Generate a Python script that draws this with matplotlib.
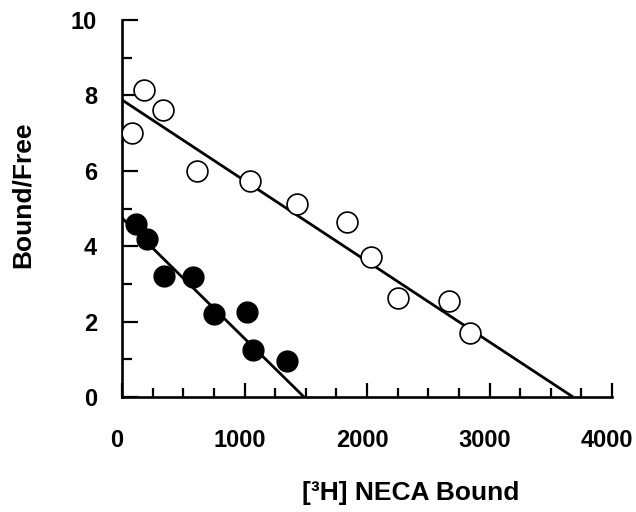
import matplotlib
matplotlib.use("Agg")
import matplotlib.pyplot as plt
import matplotlib.transforms as mtransforms
import numpy as np
from matplotlib.ticker import MultipleLocator

# Data
open_x = [82, 180, 337, 615, 1045, 1426, 1839, 2035, 2256, 2667, 2841]
open_y = [6.99, 8.14, 7.61, 6.00, 5.74, 5.12, 4.65, 3.72, 2.63, 2.55, 1.71]
filled_x = [114, 207, 343, 582, 751, 1018, 1072, 1344]
filled_y = [4.59, 4.19, 3.21, 3.17, 2.20, 2.25, 1.25, 0.95]

# Regression lines: (y-intercept, x-intercept)
open_fit = (7.88, 3682)
filled_fit = (4.75, 1486)

x_ticks = [0, 1000, 2000, 3000, 4000]
y_ticks = [0, 2, 4, 6, 8, 10]
x_label = "[\u00b3H] NECA Bound"
y_label = "Bound/Free"

W, H = 636, 512
fig = plt.figure(figsize=(W / 100, H / 100), dpi=100)
ax = fig.add_axes([122 / W, 1 - 397 / H, (612 - 122) / W, (397 - 20) / H])

lw = 2.0
for (b, xi) in [open_fit, filled_fit]:
    xs = np.array([0, xi])
    ax.plot(xs, b * (1 - xs / xi), color="black", lw=lw, solid_capstyle="butt", zorder=2)

ax.plot(open_x, open_y, "o", ms=15, mfc="white", mec="black", mew=1.2, zorder=3)
ax.plot(filled_x, filled_y, "o", ms=15, mfc="black", mec="black", mew=1.0, zorder=3)

ax.set_xlim(0, 4000)
ax.set_ylim(0, 10)
ax.set_xticks(x_ticks)
ax.set_yticks(y_ticks)
ax.xaxis.set_minor_locator(MultipleLocator(250))
ax.yaxis.set_minor_locator(MultipleLocator(1))
for s in ["top", "right"]:
    ax.spines[s].set_visible(False)
for s in ["left", "bottom"]:
    ax.spines[s].set_linewidth(1.9)

tick_font = dict(family=["Liberation Sans", "DejaVu Sans"], weight="bold", size=17)
ax.tick_params(which="major", direction="in", width=1.6, color="black")
ax.tick_params(axis="x", which="major", length=10)
ax.tick_params(axis="x", which="minor", direction="in", length=6.5, width=1.6)
ax.tick_params(axis="y", which="major", length=11.5)
ax.tick_params(axis="y", which="minor", direction="in", length=7, width=1.6)
ax.tick_params(axis="x", pad=23)
ax.tick_params(axis="y", pad=18)
ax.set_xticklabels([str(v) for v in x_ticks], fontdict=tick_font)
ax.set_yticklabels([str(v) for v in y_ticks], fontdict=tick_font)

shift = mtransforms.ScaledTranslation(-5 / 100, 0, fig.dpi_scale_trans)
for lbl in ax.get_xticklabels():
    lbl.set_transform(lbl.get_transform() + shift)

lab_font = dict(family=["Liberation Sans", "DejaVu Sans"], weight="bold", size=19)
fig.text(411 / W, 1 - 493 / H, x_label, ha="center", va="center", **lab_font)
fig.text(23 / W, 1 - 195 / H, y_label, ha="center", va="center", rotation=90, **lab_font)

fig.savefig("out.png", dpi=100)
